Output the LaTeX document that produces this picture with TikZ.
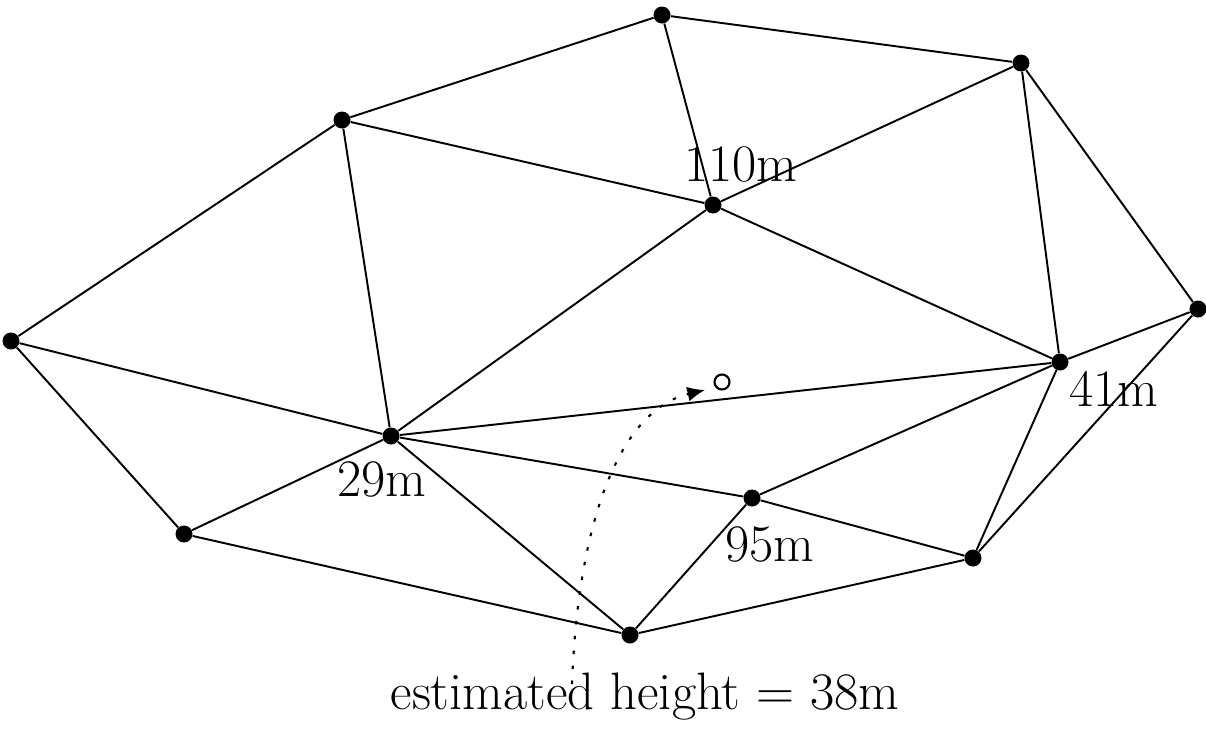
\documentclass[tikz,border=0pt]{standalone}
\usetikzlibrary{arrows.meta}
\begin{document}
\begin{tikzpicture}[x=0.02cm,y=-0.02cm,
  pt/.style={circle,fill=black,inner sep=0pt,minimum size=0.34cm},
  edge/.style={line width=1.1pt},
  lbl/.style={font=\fontsize{30}{35}\selectfont,inner sep=0pt},
  dots/.style={line width=1.2pt,dash pattern=on 2pt off 6.5pt}]
\useasboundingbox (0,0) rectangle (1206,731);
\node[pt] (A) at (662,15) {};
\node[pt] (B) at (1021,63) {};
\node[pt] (C) at (342,120) {};
\node[pt] (D) at (713,205) {};
\node[pt] (E) at (11,341) {};
\node[pt] (F) at (1198,309) {};
\node[pt] (G) at (1060,362) {};
\node[pt] (H) at (391,436) {};
\node[pt] (I) at (184,534) {};
\node[pt] (J) at (752,498) {};
\node[pt] (K) at (973,558) {};
\node[pt] (L) at (630,635) {};
\draw[edge] (A)--(B) (A)--(C) (A)--(D)
  (B)--(D) (B)--(G) (B)--(F)
  (C)--(D) (C)--(E) (C)--(H)
  (D)--(H) (D)--(G)
  (E)--(H) (E)--(I)
  (F)--(G) (F)--(K)
  (G)--(H) (G)--(J) (G)--(K)
  (H)--(I) (H)--(J) (H)--(L)
  (I)--(L) (J)--(L) (J)--(K) (K)--(L);
\node[lbl] (l110) at (741,164) {110m};
\node[lbl] (l41) at (1114,389) {41m};
\node[lbl] (l29) at (382,479) {29m};
\node[lbl] (l95) at (770,544) {95m};
\node[lbl] (est) at (645,697) {estimated height = 38m};
\node[circle,draw,line width=1.2pt,inner sep=0pt,minimum size=0.3cm] (q) at (722,382) {};
\coordinate (s) at (572,684);
\coordinate (e) at (705,390);
\draw[dots,-{Latex[length=10pt,width=8.5pt]}] (s) .. controls (578,520) and (620,410) .. (e);
\end{tikzpicture}
\end{document}
